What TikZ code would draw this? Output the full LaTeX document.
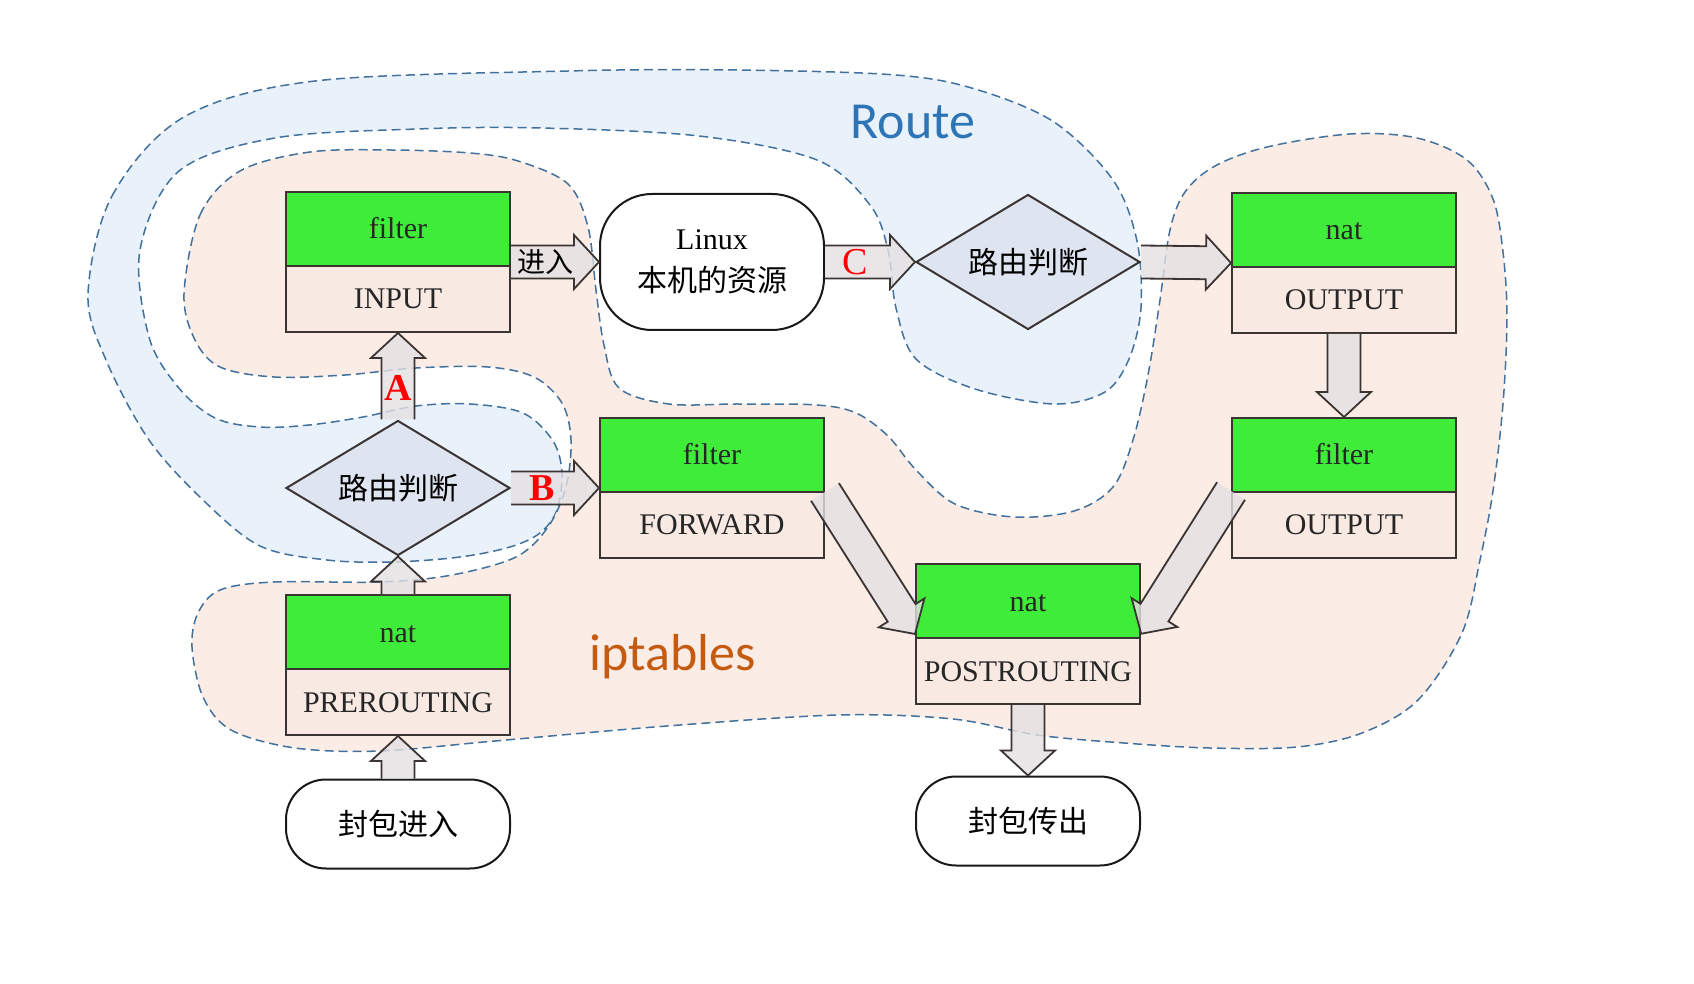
\documentclass[tikz,border=0pt]{standalone}
\usepackage{fontspec}
\setmainfont{Liberation Serif}
\newfontfamily\cjk{Noto Sans CJK SC}
\newfontfamily\calibri{Carlito}
\usetikzlibrary{calc,shapes.geometric,shapes.multipart}

\definecolor{chaingreen}{RGB}{64,236,58}
\definecolor{chainpink}{RGB}{248,233,227}
\definecolor{routefill}{RGB}{233,241,250}
\definecolor{iptfill}{RGB}{252,236,230}
\definecolor{arealine}{RGB}{65,113,156}
\definecolor{routetext}{RGB}{46,117,182}
\definecolor{ipttext}{RGB}{197,90,17}
\definecolor{decfill}{RGB}{222,228,240}
\definecolor{edgegray}{RGB}{58,52,50}
\definecolor{flowfill}{RGB}{228,224,226}

% two lines of a chain box: table name and chain name
\newcommand{\tabtext}[1]{\rule[-13pt]{0pt}{36pt}#1}
\newcommand{\chaintext}[1]{\rule[-11pt]{0pt}{32pt}#1}

% fat hollow arrow from #1 to #2 (open tail)
\newcommand{\fatarrow}[2]{%
  \path[flowarrow] let \p1=(#1), \p2=(#2),
      \n1={atan2(\y2-\y1,\x2-\x1)}, \n2={veclen(\x2-\x1,\y2-\y1)} in
      {[shift={(\p1)},rotate=\n1]
       (0pt,8.25pt) -- (\n2-12.5pt,8.25pt) -- (\n2-12.5pt,13.5pt) -- (\n2,0pt)
       -- (\n2-12.5pt,-13.5pt) -- (\n2-12.5pt,-8.25pt) -- (0pt,-8.25pt)};
}

\tikzset{
  area/.style={draw=arealine, line width=0.75pt, dash pattern=on 4.5pt off 2.5pt},
  chainbox/.style={rectangle split, rectangle split parts=2,
      rectangle split part fill={chaingreen,chainpink},
      draw=edgegray, line width=1pt, minimum width=112pt, inner sep=0pt,
      text=black!85, font=\fontsize{15}{18}\selectfont},
  decision/.style={diamond, shape aspect=1.66, draw=edgegray, line width=1pt,
      fill=decfill, minimum width=112pt, minimum height=67.5pt, inner sep=0pt,
      font=\cjk\fontsize{15}{18}\selectfont},
  terminal/.style={rectangle, rounded corners=20pt,
      draw=black!90, line width=1pt, fill=white, minimum width=112pt,
      minimum height=44.5pt, inner sep=0pt, font=\cjk\fontsize{15}{18}\selectfont},
  flowarrow/.style={fill=flowfill, fill opacity=0.8, draw=edgegray,
      line width=0.9pt, line join=miter},
  flowtag/.style={text=red, inner sep=0pt, font=\bfseries\fontsize{19}{20}\selectfont},
}

\begin{document}
\begin{tikzpicture}[x=0.5pt,y=-0.5pt]
\useasboundingbox (0,0) rectangle (1694,984);

%-------------------------------------------- Route area
\draw[area, fill=routefill] plot[smooth cycle, tension=0.55] coordinates {
  (88,294) (112,196) (184,117) (315,81) (568,71) (738,70) (896,75) (975,89)
  (1054,122) (1113,180) (1137,241) (1141,308) (1129,359) (1105,392) (1054,404)
  (975,389) (916,359) (896,308) (888,250) (870,205) (817,160) (699,136) (541,128)
  (417,129) (275,138) (179,171) (140,250) (149,337) (178,387) (215,418) (260,427)
  (309,425) (363,417) (416,406) (470,404) (523,413) (553,441) (562,473) (557,510)
  (540,533) (510,547) (460,557) (393,562) (327,560) (260,546) (203,500) (149,440)
  (106,360)};
\node[text=routetext, font=\calibri\fontsize{26}{30}\selectfont] (routelbl) at (913,122) {Route};

%-------------------------------------------- iptables area
\draw[area, fill=iptfill] plot[smooth cycle, tension=0.55] coordinates {
  (184,294) (200,215) (240,171) (310,152) (391,150) (470,153) (518,161) (568,184)
  (588,227) (596,290) (604,345) (619,388) (669,404) (738,404) (817,405) (856,413)
  (888,436) (916,470) (955,504) (1014,517) (1074,511) (1113,487) (1133,440)
  (1148,375) (1160,300) (1170,230) (1185,192) (1215,166) (1267,147) (1350,134)
  (1417,138) (1467,160) (1493,199) (1503,252) (1507,317) (1503,404) (1493,491)
  (1480,560) (1462,633) (1418,700) (1362,733) (1297,747) (1210,748) (1124,743)
  (1037,735) (953,719) (838,715) (667,726) (495,741) (380,751) (295,748) (231,730)
  (203,697) (192,647) (198,613) (220,590) (274,582) (381,582) (452,575) (516,557)
  (548,527) (566,487) (571,440) (562,403) (534,377) (488,367) (416,368) (345,375)
  (274,377) (220,367) (195,340)};
\node[text=ipttext, font=\calibri\fontsize{26}{30}\selectfont] (iptlbl) at (673,657) {iptables};

%-------------------------------------------- Chains
\node[chainbox] (input) at (398,262) {\tabtext{filter}\nodepart{two}\chaintext{INPUT}};
\node[chainbox] (forward) at (712,488) {\tabtext{filter}\nodepart{two}\chaintext{FORWARD}};
\node[chainbox] (prerouting) at (398,665) {\tabtext{nat}\nodepart{two}\chaintext{PREROUTING}};
\node[chainbox] (postrouting) at (1028,634) {\tabtext{nat}\nodepart{two}\chaintext{POSTROUTING}};
\node[chainbox] (natout) at (1344,263) {\tabtext{nat}\nodepart{two}\chaintext{OUTPUT}};
\node[chainbox] (filterout) at (1344,488) {\tabtext{filter}\nodepart{two}\chaintext{OUTPUT}};

%-------------------------------------------- Routing decisions
\node[decision] (route1) at (398,488) {路由判断};
\node[decision] (route2) at (1028,262) {路由判断};

%-------------------------------------------- Local process, packets in/out
\node[terminal, minimum height=68pt, rounded corners=26pt,
      align=center, font=\fontsize{15}{18}\selectfont] (local) at (712,262)
      {Linux\\[3pt]{\cjk 本机的资源}};
\node[terminal] (pktin) at (398,824) {封包进入};
\node[terminal] (pktout) at (1028,821) {封包传出};

%-------------------------------------------- Flow
\fatarrow{pktin.north}{prerouting.south}
\fatarrow{prerouting.north}{route1.south}
\fatarrow{route1.north}{input.south}        % A
\fatarrow{route1.east}{forward.west}        % B
\fatarrow{input.east}{local.west}
\fatarrow{local.east}{route2.west}          % C
\fatarrow{route2.east}{natout.west}
\fatarrow{natout.south}{filterout.north}
\fatarrow{$(forward.east)+(0,4)$}{postrouting.west}
\fatarrow{$(filterout.west)+(0,3)$}{postrouting.east}
\fatarrow{postrouting.south}{pktout.north}

% labels on the arrows
\node[flowtag] (tagA) at ($(route1.north)!0.36!(input.south)$) {A};
\node[flowtag] (tagB) at ($(route1.east)!0.35!(forward.west)$) {B};
\node[flowtag, font=\fontsize{19}{20}\selectfont] (tagC) at ($(local.east)!0.34!(route2.west)$) {C};
\node[inner sep=0pt, font=\cjk\fontsize{14}{16}\selectfont] (tagin)
      at ($(input.east)!0.39!(local.west)$) {进入};

\end{tikzpicture}
\end{document}
